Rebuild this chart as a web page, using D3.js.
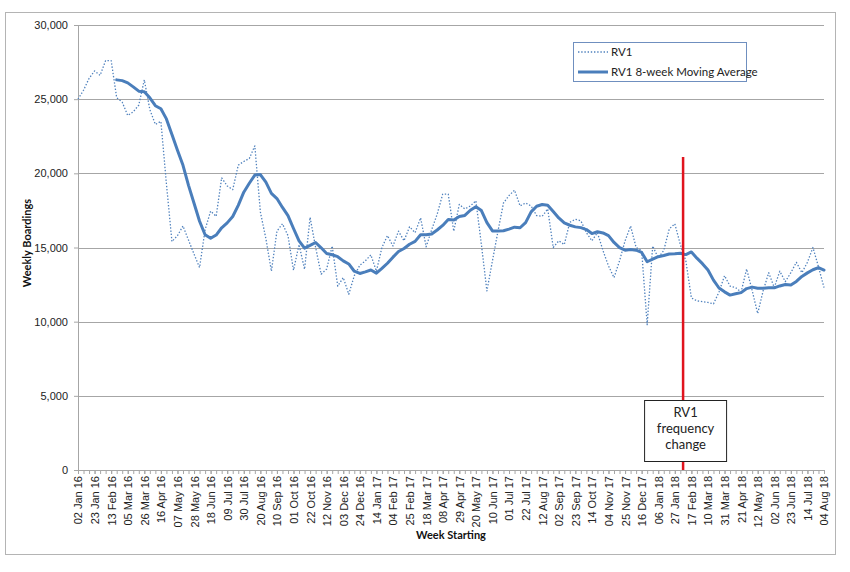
<!DOCTYPE html>
<html>
<head>
<meta charset="utf-8">
<script src="https://cdn.jsdelivr.net/npm/d3@7"></script>
<style>
  html, body { margin: 0; padding: 0; background: #fff; }
  svg { display: block; font-family: "Lato", "Open Sans", sans-serif; }
</style>
</head>
<body>
<svg id="chart" width="850" height="572"></svg>
<script>
// ---- Data ----
const tickLabels = ["02 Jan 16","23 Jan 16","13 Feb 16","05 Mar 16","26 Mar 16","16 Apr 16","07 May 16","28 May 16","18 Jun 16","09 Jul 16","30 Jul 16","20 Aug 16","10 Sep 16","01 Oct 16","22 Oct 16","12 Nov 16","03 Dec 16","24 Dec 16","14 Jan 17","04 Feb 17","25 Feb 17","18 Mar 17","08 Apr 17","29 Apr 17","20 May 17","10 Jun 17","01 Jul 17","22 Jul 17","12 Aug 17","02 Sep 17","23 Sep 17","14 Oct 17","04 Nov 17","25 Nov 17","16 Dec 17","06 Jan 18","27 Jan 18","17 Feb 18","10 Mar 18","31 Mar 18","21 Apr 18","12 May 18","02 Jun 18","23 Jun 18","14 Jul 18","04 Aug 18"];
const tickEvery = 3;

const rv1Weekly = [25000,25600,26400,26900,26600,27600,27600,25100,24800,23900,
  24150,24600,26300,24300,23300,23500,19300,15400,15800,16450,
  15500,14550,13650,16200,17450,17100,19700,19150,18900,20550,
  20800,21000,21850,17400,15600,13400,16100,16600,15800,13470,
  15200,13530,17030,15000,13200,13550,15100,12400,12970,11850,
  13100,13800,14100,14500,13400,15000,15800,15100,16100,15450,
  16400,16000,17000,15050,16200,17250,18600,18600,16100,17900,
  17600,17800,18150,15200,12070,14100,16100,18000,18500,18870,
  17800,18000,17800,17150,17100,17600,15000,15450,15200,16700,
  16900,16800,16000,15450,16000,14800,13760,12970,14100,15450,
  16450,15000,14800,9800,15100,14300,14800,16250,16600,15200,
  14100,11600,11400,11350,11300,11200,12000,13100,12400,12300,
  12000,13550,12100,10550,12100,13300,12300,13400,12700,13300,
  14000,13300,14000,15000,13700,12300];

const rv1MovingAvg = [null,null,null,null,null,null,null,
  26300,26250,26100,25830,25540,25500,25090,24560,24350,23670,
  22610,21560,20540,19190,17980,16770,15860,15620,15840,16330,
  16660,17090,17840,18730,19330,19880,19920,19410,18650,18300,
  17700,17150,16280,15450,14960,15140,15340,14980,14600,14510,
  14380,14100,13890,13400,13250,13360,13480,13270,13590,13940,
  14350,14730,14930,15220,15410,15860,15860,15910,16180,16490,
  16890,16850,17090,17160,17510,17750,17490,16680,16120,16110,
  16130,16240,16370,16330,16680,17400,17780,17900,17850,17420,
  16990,16660,16500,16390,16340,16210,15940,16060,15980,15800,
  15340,14990,14820,14870,14820,14670,14040,14210,14380,14460,
  14560,14580,14610,14520,14700,14280,13910,13480,12800,12270,
  12010,11790,11880,11960,12230,12330,12250,12260,12290,12280,
  12410,12500,12470,12710,13050,13290,13500,13650,13480];

const yTicks = [0,5000,10000,15000,20000,25000,30000];
const seriesNames = ["RV1", "RV1 8-week Moving Average"];
const changeWeek = 109.5;       // position of frequency change (between weeks)
const changeLineTop = 21100;    // top of the red marker line
const annotationLines = ["RV1", "frequency", "change"];

// ---- Layout ----
const svg = d3.select("#chart");
const plot = { left: 78, right: 824, top: 25, bottom: 470 };
const blue = "#4F81BD";
const gridColor = "#a6a6a6";

// outer border
svg.append("rect").attr("x", 5.5).attr("y", 12.5).attr("width", 830).attr("height", 542)
  .attr("fill", "#fff").attr("stroke", "#b4b4b4").attr("stroke-width", 1);

const x = d3.scaleLinear().domain([0, rv1Weekly.length - 1]).range([plot.left, plot.right]);
const y = d3.scaleLinear().domain([0, 30000]).range([plot.bottom, plot.top]);

// gridlines
svg.append("g").selectAll("line").data(yTicks.filter(d => d > 0)).join("line")
  .attr("x1", plot.left).attr("x2", plot.right)
  .attr("y1", d => Math.round(y(d)) + 0.5).attr("y2", d => Math.round(y(d)) + 0.5)
  .attr("stroke", gridColor).attr("stroke-width", 1);

// y axis
const yAxis = svg.append("g").attr("transform", `translate(${plot.left},0)`)
  .call(d3.axisLeft(y).tickValues(yTicks).tickSize(4).tickPadding(6).tickFormat(d3.format(",")));
yAxis.select(".domain").attr("stroke", gridColor);
yAxis.selectAll(".tick line").attr("stroke", gridColor);
yAxis.selectAll("text").attr("fill", "#222").style("font-size", "11px");

// x axis minor ticks (every week)
const xMinor = svg.append("g").attr("transform", `translate(0,${plot.bottom})`)
  .call(d3.axisBottom(x).tickValues(d3.range(0, rv1Weekly.length)).tickSize(4).tickFormat(""));
xMinor.select(".domain").attr("stroke", gridColor);
xMinor.selectAll(".tick line").attr("stroke", gridColor);

// x axis labels
const xAxis = svg.append("g").attr("transform", `translate(0,${plot.bottom})`)
  .call(d3.axisBottom(x).tickValues(tickLabels.map((_, i) => i * tickEvery))
    .tickSize(4).tickFormat((d, i) => tickLabels[i]));
xAxis.select(".domain").remove();
xAxis.selectAll(".tick line").attr("stroke", gridColor);
xAxis.selectAll("text")
  .attr("transform", "rotate(-90)")
  .attr("x", -6).attr("y", 0).attr("dy", "0.36em")
  .style("text-anchor", "end").attr("fill", "#222").style("font-size", "11px");

// axis titles
svg.append("text").attr("x", (plot.left + plot.right) / 2).attr("y", 539)
  .attr("text-anchor", "middle").attr("font-weight", "bold").attr("font-size", 11)
  .attr("fill", "#111").text("Week Starting");
svg.append("text").attr("transform", `translate(31,${243}) rotate(-90)`)
  .attr("text-anchor", "middle").attr("font-weight", "bold").attr("font-size", 11)
  .attr("fill", "#111").text("Weekly Boardings");

// lines
const lineGen = d3.line().defined(d => d != null).x((d, i) => x(i)).y(d => y(d));
const lineRaw = d3.line().x((d, i) => x(i)).y(d => y(d));

svg.append("path").datum(rv1Weekly).attr("d", lineRaw)
  .attr("fill", "none").attr("stroke", blue).attr("stroke-width", 1.3)
  .attr("stroke-dasharray", "1.4,1.8").attr("stroke-linejoin", "round");

svg.append("path").datum(rv1MovingAvg)
  .attr("d", d3.line().defined(d => d != null).x((d, i) => x(i)).y(d => y(d)))
  .attr("fill", "none").attr("stroke", "#4A7EBB").attr("stroke-width", 3)
  .attr("stroke-linejoin", "round").attr("stroke-linecap", "round");

// red change marker
const cx = x(changeWeek);
svg.append("line").attr("x1", cx).attr("x2", cx)
  .attr("y1", y(changeLineTop)).attr("y2", y(0))
  .attr("stroke", "#e0141e").attr("stroke-width", 2.5);

// annotation box
const boxW = 82, boxH = 61, boxTop = 400;
svg.append("rect").attr("x", cx - 38.5).attr("y", boxTop + 0.5).attr("width", boxW).attr("height", boxH)
  .attr("fill", "#fff").attr("stroke", "#222").attr("stroke-width", 1);
svg.append("g").selectAll("text").data(annotationLines).join("text")
  .attr("x", cx + 2.5).attr("y", (d, i) => boxTop + 17 + i * 16)
  .attr("text-anchor", "middle").attr("font-size", 13).attr("fill", "#222")
  .text(d => d);

// legend
const lg = svg.append("g");
lg.append("rect").attr("x", 573.5).attr("y", 42.5).attr("width", 173).attr("height", 39)
  .attr("fill", "#fff").attr("stroke", "#6f8fbf").attr("stroke-width", 1);
lg.append("line").attr("x1", 578).attr("x2", 608).attr("y1", 52).attr("y2", 52)
  .attr("stroke", blue).attr("stroke-width", 1.3).attr("stroke-dasharray", "1.4,1.8");
lg.append("line").attr("x1", 578).attr("x2", 608).attr("y1", 72).attr("y2", 72)
  .attr("stroke", "#4A7EBB").attr("stroke-width", 3);
lg.selectAll("text.l").data(seriesNames).join("text")
  .attr("x", 611).attr("y", (d, i) => 52 + i * 20).attr("dy", "0.35em")
  .attr("font-size", 11.5).attr("fill", "#222").text(d => d);
</script>
</body>
</html>
